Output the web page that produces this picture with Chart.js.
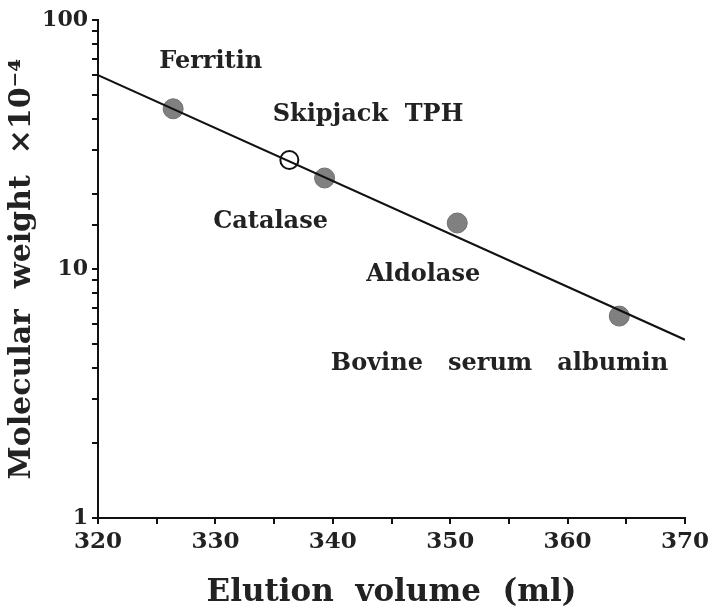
<!DOCTYPE html>
<html>
<head>
    <title>Elution volume</title>
    <script src="https://cdn.jsdelivr.net/npm/chart.js"></script>
    <style>
        body { margin: 0; background: #fff; }
        #wrap { width: 711px; height: 616px; }
    </style>
</head>
<body>
    <div id="wrap"><canvas id="chart" width="711" height="616"></canvas></div>

    <script>
        // Données
        const proteins = ['Ferritin', 'Catalase', 'Aldolase', 'Bovine serum albumin'];
        const elution = [326.4, 339.3, 350.6, 364.4];
        const mw = [44, 23.2, 15.3, 6.47];

        const sampleName = 'Skipjack TPH';
        const sampleElution = [336.3];
        const sampleMw = [27.4];

        const fitX = [320, 370];
        const fitY = [60, 5.2];

        // Étiquettes (coordonnées dans l'espace des données)
        const labelText = ['Ferritin', 'Skipjack  TPH', 'Catalase', 'Aldolase', 'Bovine   serum   albumin'];
        const labelX = [329.6, 343.0, 334.7, 347.7, 354.2];
        const labelY = [67.8, 41.5, 15.5, 9.47, 4.15];

        const xTicks = [320, 330, 340, 350, 360, 370];
        const yTicks = [1, 10, 100];

        const serif = '"DejaVu Serif", serif';

        const labels = {
            id: 'labels',
            afterDatasetsDraw(chart) {
                const ctx = chart.ctx;
                const xs = chart.scales.x, ys = chart.scales.y;
                ctx.save();
                ctx.font = 'bold 24px ' + serif;
                ctx.fillStyle = '#222';
                ctx.textAlign = 'center';
                ctx.textBaseline = 'middle';
                labelText.forEach((t, i) => {
                    ctx.fillText(t, xs.getPixelForValue(labelX[i]), ys.getPixelForValue(labelY[i]));
                });
                ctx.restore();
            }
        };

        const chart = new Chart(document.getElementById('chart'), {
            type: 'scatter',
            data: {
                datasets: [
                    {
                        label: 'fit',
                        data: fitX.map((x, i) => ({ x, y: fitY[i] })),
                        showLine: true,
                        borderColor: '#111',
                        borderWidth: 2,
                        pointRadius: 0
                    },
                    {
                        label: 'standards',
                        data: elution.map((x, i) => ({ x, y: mw[i] })),
                        backgroundColor: '#808080',
                        borderColor: '#707070',
                        borderWidth: 1,
                        pointRadius: 10
                    },
                    {
                        label: sampleName,
                        data: sampleElution.map((x, i) => ({ x, y: sampleMw[i] })),
                        backgroundColor: '#fff',
                        borderColor: '#111',
                        borderWidth: 2,
                        pointRadius: 9
                    }
                ]
            },
            options: {
                responsive: false,
                animation: false,
                layout: { padding: { top: 20, right: 26, left: 0, bottom: 0 } },
                plugins: { legend: { display: false }, tooltip: { enabled: false } },
                scales: {
                    x: {
                        type: 'linear',
                        min: 320,
                        max: 370,
                        afterFit: s => { s.height = 98; s.paddingRight = 0; s.paddingLeft = 0; },
                        border: { color: '#111', width: 2 },
                        grid: { drawOnChartArea: false, color: '#111', tickLength: 6, lineWidth: 2 },
                        ticks: {
                            stepSize: 5,
                            autoSkip: false,
                            maxRotation: 0,
                            color: '#222',
                            padding: 4,
                            font: { family: serif, size: 23, weight: 'bold' },
                            callback: v => xTicks.includes(v) ? String(v) : ''
                        },
                        title: {
                            display: true,
                            text: 'Elution  volume  (ml)',
                            color: '#222',
                            font: { family: serif, size: 31, weight: 'bold' },
                            padding: { top: 4 }
                        }
                    },
                    y: {
                        type: 'logarithmic',
                        min: 1,
                        max: 100,
                        afterFit: s => { s.width = 98; },
                        border: { color: '#111', width: 2 },
                        grid: { drawOnChartArea: false, color: '#111', tickLength: 6, lineWidth: 2 },
                        ticks: {
                            autoSkip: false,
                            color: '#222',
                            padding: 4,
                            font: { family: serif, size: 22, weight: 'bold' },
                            callback: v => yTicks.includes(v) ? String(v) : ''
                        },
                        title: {
                            display: true,
                            text: 'Molecular  weight  ×10⁻⁴',
                            color: '#222',
                            font: { family: serif, size: 30, weight: 'bold' },
                            padding: { bottom: 4 }
                        }
                    }
                }
            },
            plugins: [labels]
        });
    </script>
</body>
</html>
